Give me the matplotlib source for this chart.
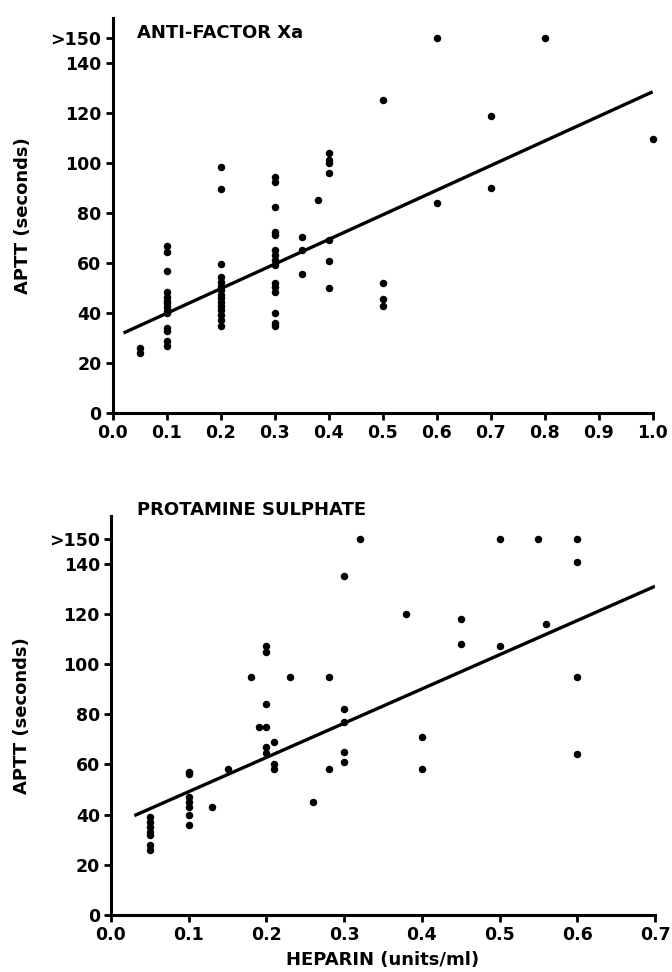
import matplotlib
matplotlib.use("Agg")
import matplotlib.pyplot as plt

# ---------------- data ----------------
# Panel A: anti-factor Xa
xa_heparin = ([0.05] * 2 + [0.1] * 14 + [0.2] * 15 + [0.3] * 15 + [0.35] * 3 + [0.38]
              + [0.4] * 7 + [0.5] * 4 + [0.6] * 2 + [0.7] * 2 + [0.8] + [1.0])
xa_aptt = ([26, 24]
           + [67, 64.5, 57, 48.5, 46.5, 45, 44, 42.5, 41, 40, 34, 33, 29, 27]
           + [98.5, 89.5, 59.5, 54.3, 52.5, 50.8, 49.2, 47.2, 45.9, 44.5, 42.8, 41.2, 39.2, 37.2, 34.8]
           + [94.5, 92.3, 82.5, 72.5, 71.2, 65.2, 63.2, 61.2, 59.2, 51.9, 50.3, 48.5, 40.1, 36.1, 34.8]
           + [70.5, 65.2, 55.6]
           + [85.2]
           + [104.1, 101.2, 100.1, 96.1, 69.2, 60.9, 50.1]
           + [125.2, 52.1, 45.5, 42.8]
           + [150, 84.1]
           + [118.8, 89.9]
           + [150]
           + [109.6])
xa_fit_x = [0.02, 1.0]
xa_fit_y = [32.0, 128.5]

# Panel B: protamine sulphate
ps_heparin = ([0.05] * 7 + [0.1] * 7 + [0.13, 0.15, 0.18, 0.19] + [0.2] * 6 + [0.21] * 3
              + [0.23, 0.26] + [0.28] * 2 + [0.3] * 5 + [0.32, 0.38] + [0.4] * 2
              + [0.45] * 2 + [0.5] * 2 + [0.55, 0.56] + [0.6] * 4)
ps_aptt = ([39, 37, 35, 33, 32, 28, 26]
           + [57, 56, 47, 45, 43, 40, 36]
           + [43, 58, 95, 75]
           + [107, 105, 84, 75, 67, 64.5]
           + [69, 60, 58]
           + [95, 45]
           + [95, 58]
           + [135, 82, 77, 65, 61]
           + [150, 120]
           + [71, 58]
           + [118, 108]
           + [150, 107]
           + [150, 116]
           + [150, 140.5, 95, 64])
ps_fit_x = [0.03, 0.7]
ps_fit_y = [39.6, 131.0]

y_ticks = [0, 20, 40, 60, 80, 100, 120, 140, 150]
y_ticklabels = ["0", "20", "40", "60", "80", "100", "120", "140", ">150"]
xa_xticks = [0.0, 0.1, 0.2, 0.3, 0.4, 0.5, 0.6, 0.7, 0.8, 0.9, 1.0]
ps_xticks = [0.0, 0.1, 0.2, 0.3, 0.4, 0.5, 0.6, 0.7]

# ---------------- figure ----------------
plt.rcParams["font.family"] = ["DejaVu Sans"]
plt.rcParams["font.weight"] = "bold"

W, H = 672, 972
fig = plt.figure(figsize=(W / 100, H / 100), dpi=100)

def px_axes(x0, x1, ybot, ytop):
    return fig.add_axes([x0 / W, 1 - ybot / H, (x1 - x0) / W, (ybot - ytop) / H])

ax1 = px_axes(112.7, 652.7, 413, 18)
ax2 = px_axes(111, 655, 915, 516)

FS_TICK = 12.5
FS_TEXT = 13

def style(ax, xticks, xmax, ymax):
    ax.set_xlim(0, xmax)
    ax.set_ylim(0, ymax)
    for s in ("top", "right"):
        ax.spines[s].set_visible(False)
    for s in ("left", "bottom"):
        ax.spines[s].set_linewidth(2.2)
    ax.set_xticks(xticks)
    ax.set_xticklabels([f"{t:.1f}" for t in xticks])
    ax.set_yticks(y_ticks)
    ax.set_yticklabels(y_ticklabels)
    ax.tick_params(direction="out", length=5, width=2, labelsize=FS_TICK, pad=3)
    for lab in ax.get_xticklabels() + ax.get_yticklabels():
        lab.set_fontweight("bold")
    ax.set_ylabel("APTT (seconds)", fontsize=FS_TEXT, fontweight="bold", labelpad=10)

style(ax1, xa_xticks, 1.0, 158)
style(ax2, ps_xticks, 0.7, 159)

ax1.plot(xa_heparin, xa_aptt, "o", color="black", markersize=5.4, markeredgewidth=0, clip_on=False)
ax1.plot(xa_fit_x, xa_fit_y, "-", color="black", linewidth=2.4, solid_capstyle="butt")
ax1.text(0.045, 152, "ANTI-FACTOR Xa", fontsize=FS_TEXT, fontweight="bold", va="center", ha="left")

ax2.plot(ps_heparin, ps_aptt, "o", color="black", markersize=5.4, markeredgewidth=0, clip_on=False)
ax2.plot(ps_fit_x, ps_fit_y, "-", color="black", linewidth=2.4, solid_capstyle="butt")
ax2.text(0.033, 161.5, "PROTAMINE SULPHATE", fontsize=FS_TEXT, fontweight="bold",
         va="center", ha="left", clip_on=False)
ax2.set_xlabel("HEPARIN (units/ml)", fontsize=FS_TEXT, fontweight="bold", labelpad=5)

ax1.yaxis.set_label_coords(-0.15, 0.5)
ax2.yaxis.set_label_coords(-0.147, 0.5)

fig.savefig("out.png", dpi=100)
